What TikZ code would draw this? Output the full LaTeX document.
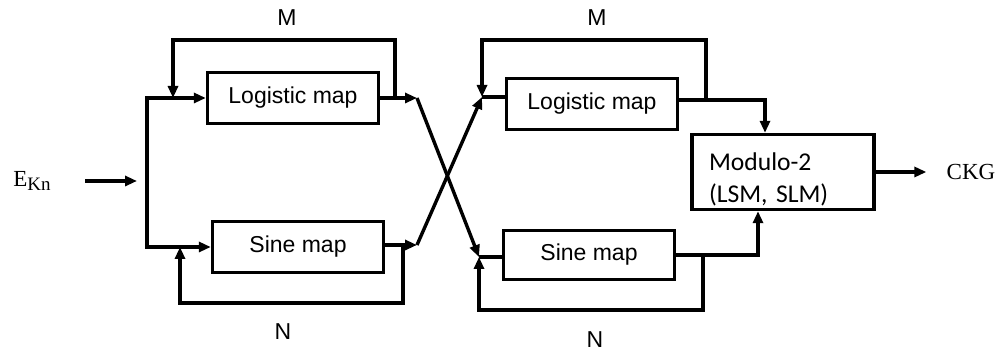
\documentclass[tikz,border=0pt]{standalone}
\usepackage{fontspec}
\usetikzlibrary{arrows.meta}
\setmainfont{Liberation Serif}
\setsansfont{Liberation Sans}
\newfontfamily\calfont{Carlito}
\begin{document}
\begin{tikzpicture}[x=0.5pt,y=-0.5pt,>={Triangle[length=6pt,width=5pt]},line width=1.7pt]
  \tikzstyle{mapbox}=[draw, minimum width=85.5pt, minimum height=25.5pt, font=\sffamily\fontsize{11.5}{13}\selectfont]
  \tikzstyle{lbl}=[font=\sffamily\fontsize{11.5}{13}\selectfont]
  \useasboundingbox (0,0) rectangle (1005,351);

  % Input
  \node[font=\fontsize{11.5}{13}\selectfont] (ekn) at (32,181) {E\raisebox{-2pt}{\fontsize{9.5}{9}\selectfont Kn}};
  \coordinate (split) at (147,181);

  % First stage
  \node[mapbox] (log1) at (293,98) {Logistic map};
  \node[mapbox] (sin1) at (298,247) {Sine map};
  \coordinate (j1) at (173,98);
  \coordinate (j2) at (180,247);
  \coordinate (o1) at (395,98);
  \coordinate (o3) at (403,247);
  \coordinate (x1) at (417,98);
  \coordinate (x2) at (417,245);

  % Second stage
  \node[mapbox] (log2) at (592,104) {Logistic map};
  \node[mapbox, minimum height=24.5pt] (sin2) at (589,255) {Sine map};
  \coordinate (k1) at (482,97);
  \coordinate (k2) at (479,257);
  \coordinate (o2) at (706,100);
  \coordinate (o4) at (703,255);

  % Combiner and output
  \node[draw, minimum width=91pt, minimum height=37.5pt, text width=74pt, inner xsep=8.5pt, inner ysep=0pt,
    align=left, font=\calfont\fontsize{12.8}{16}\selectfont] (mod) at (783,172) {\rule{0pt}{16pt}Modulo-2\\(LSM, SLM)};
  \node[font=\fontsize{11.5}{13}\selectfont] (ckg) at (971,172) {CKG};

  % Labels
  \node[lbl] (m1) at (287,18) {M};
  \node[lbl] (m2) at (597,18) {M};
  \node[lbl] (n1) at (283,332) {N};
  \node[lbl] (n2) at (595,340) {N};

  % Connections
  \draw[->, shorten <=13pt, shorten >=5pt] (ekn) -- (split);
  \draw[->] (split) |- (log1);
  \draw[->] (split) |- (sin1);
  \draw[->] (log1) -- (x1);
  \draw[->] (sin1.east |- x2) -- (x2);
  \draw[->] (o1) -- ++(0,-58) -| (j1);
  \draw[->] (o3) -- ++(0,56) -| (j2);
  \draw[->] (x1) -- (k2);
  \draw[->] (x2) -- (k1);
  \draw (k1) -- (k1 -| log2.west);
  \draw (k2) -- (k2 -| sin2.west);
  \draw[->] (o2) -- ++(0,-60) -| (k1);
  \draw[->] (o4) -- ++(0,55) -| (k2);
  \draw[->] (log2.east |- o2) -| ([xshift=-9pt]mod.north);
  \draw[->] (sin2) -| ([xshift=-12.5pt]mod.south);
  \draw[->, shorten >=6pt] (mod) -- (ckg);
\end{tikzpicture}
\end{document}
